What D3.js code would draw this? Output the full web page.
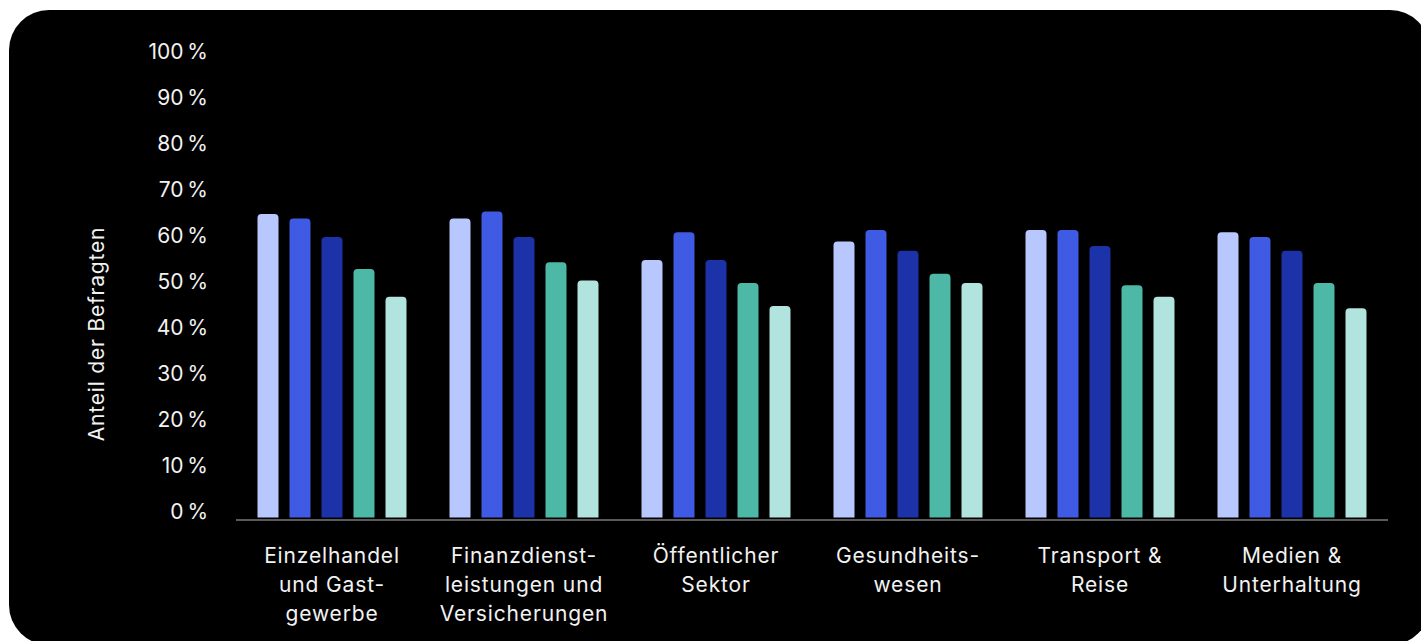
<!DOCTYPE html>
<html>
<head>
<meta charset="utf-8">
<script src="https://cdn.jsdelivr.net/npm/d3@7"></script>
<style>
  html, body { margin: 0; padding: 0; background: #fff; }
  svg { display: block; font-family: Inter, "Noto Sans", sans-serif; }
</style>
</head>
<body>
<div id="chart"></div>
<script>
// sectors on the x axis (line breaks as in the original)
const categories = [
    ["Einzelhandel", "und Gast-", "gewerbe"],
    ["Finanzdienst-", "leistungen und", "Versicherungen"],
    ["Öffentlicher", "Sektor"],
    ["Gesundheits-", "wesen"],
    ["Transport &", "Reise"],
    ["Medien &", "Unterhaltung"]
];

// five answer groups, one value per sector (share of respondents in %)
const series1 = [66, 65, 56, 60, 62.5, 62];
const series2 = [65, 66.5, 62, 62.5, 62.5, 61];
const series3 = [61, 61, 56, 58, 59, 58];
const series4 = [54, 55.5, 51, 53, 50.5, 51];
const series5 = [48, 51.5, 46, 51, 48, 45.5];

const seriesNames = ["s1", "s2", "s3", "s4", "s5"];
const colors = ["#b8c8fe", "#3f5be4", "#1c32a9", "#4db8a5", "#b2e4df"];

const yTicks = [0, 10, 20, 30, 40, 50, 60, 70, 80, 90, 100];

const width = 1421,
    height = 641;

let svg = d3.select("#chart").append("svg")
    .attr("width", width)
    .attr("height", height);

// black card with rounded corners
svg.append("rect")
    .attr("x", 9)
    .attr("y", 10)
    .attr("width", 1421)
    .attr("height", 635)
    .attr("rx", 40)
    .attr("fill", "#000");

let x0 = d3.scaleBand()
    .domain(d3.range(categories.length))
    .range([236, 1388]);

let x1 = d3.scaleBand()
    .domain(seriesNames)
    .range([0, x0.bandwidth()])
    .paddingInner(0.344)
    .paddingOuter(0.672);

let y = d3.scaleLinear()
    .domain([0, 100])
    .range([517.5, 57.5]);

// y tick labels
let yAxis = d3.axisLeft(y)
    .tickValues(yTicks)
    .tickSize(0)
    .tickPadding(0)
    .tickFormat(function(d) { return d + "\u202F%"; });

let gy = svg.append("g")
    .attr("transform", "translate(208,0)")
    .call(yAxis);
gy.select(".domain").remove();
gy.selectAll("text")
    .attr("dy", null)
    .attr("y", 0.5)
    .attr("fill", "#f2f2f2")
    .style("font-size", "21px")
    .style("letter-spacing", "0.6px")
    .style("font-family", "Inter, sans-serif");

// axis title
svg.append("text")
    .attr("transform", "translate(104,334) rotate(-90)")
    .attr("text-anchor", "middle")
    .attr("fill", "#f2f2f2")
    .style("font-size", "21px")
    .style("letter-spacing", "0.8px")
    .text("Anteil der Befragten");

let allSeries = [series1, series2, series3, series4, series5];

function barPath(x, yTop, w, yBase, r) {
    return "M" + x + "," + yBase +
        "V" + (yTop + r) +
        "Q" + x + "," + yTop + " " + (x + r) + "," + yTop +
        "H" + (x + w - r) +
        "Q" + (x + w) + "," + yTop + " " + (x + w) + "," + (yTop + r) +
        "V" + yBase + "Z";
}

let groups = svg.append("g")
    .selectAll(".group")
    .data(categories)
    .enter()
    .append("g")
    .classed("group", true)
    .attr("transform", function(d, i) { return "translate(" + x0(i) + ",0)"; });

groups.selectAll(".bar")
    .data(function(d, i) {
        return allSeries.map(function(s, j) { return { key: seriesNames[j], value: s[i], color: colors[j] }; });
    })
    .enter()
    .append("path")
    .classed("bar", true)
    .attr("d", function(d) { return barPath(x1(d.key), y(d.value), x1.bandwidth(), y(0), 4); })
    .attr("fill", function(d) { return d.color; });

// baseline
svg.append("line")
    .attr("x1", x0.range()[0])
    .attr("x2", x0.range()[1])
    .attr("y1", 520)
    .attr("y2", 520)
    .attr("stroke", "#b5b5b5")
    .attr("stroke-width", 1);

// category labels
let labels = svg.append("g")
    .selectAll(".label")
    .data(categories)
    .enter()
    .append("text")
    .classed("label", true)
    .attr("text-anchor", "middle")
    .attr("fill", "#f2f2f2")
    .style("font-size", "21px")
    .style("letter-spacing", "0.85px")
    .attr("x", function(d, i) { return x0(i) + x0.bandwidth() / 2; });

labels.selectAll("tspan")
    .data(function(d) { return d; })
    .enter()
    .append("tspan")
    .attr("x", function() { return d3.select(this.parentNode).attr("x"); })
    .attr("y", function(d, i) { return 562.5 + i * 29.2; })
    .text(function(d) { return d; });
</script>
</body>
</html>
